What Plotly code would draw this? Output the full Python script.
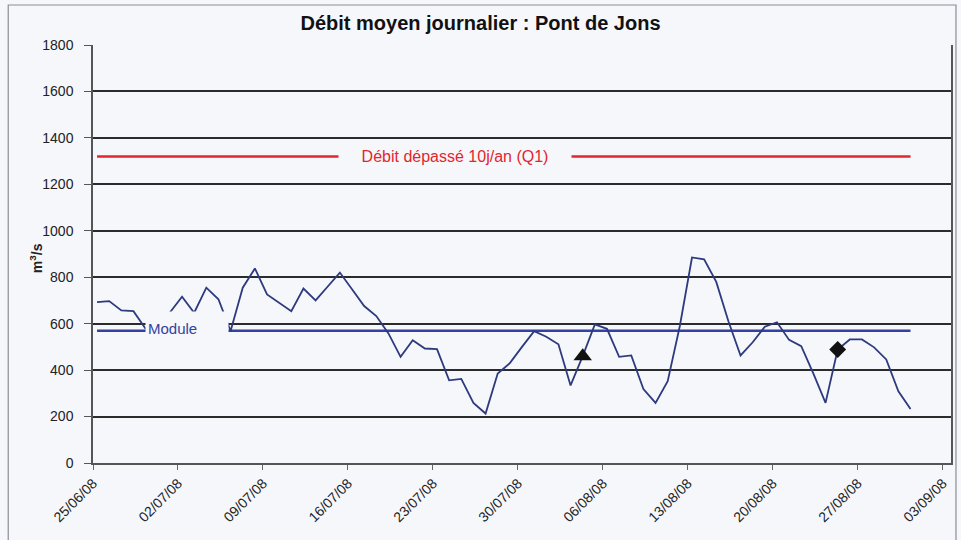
import pandas as pd
import plotly.graph_objects as go

# Daily mean discharge at Pont de Jons, 25/06/2008 -> 31/08/2008 (m3/s)
dates = pd.date_range("2008-06-25", "2008-08-31", freq="D")
debit = [
    693, 697, 657, 654, 578, 590, 648, 716, 647, 755,
    705, 568, 755, 838, 726, 690, 654, 751, 700, 760,
    820, 748, 676, 633, 558, 457, 529, 493, 490, 356,
    362, 259, 213, 385, 430, 500, 568, 544, 511, 334,
    460, 597, 578, 457, 463, 318, 259, 352, 590, 885,
    877, 780, 610, 463, 520, 587, 606, 530, 503, 385,
    259, 489, 532, 532, 498, 446, 309, 233,
]

module = 570          # mean annual flow
q1 = 1320             # flow exceeded 10 days per year
triangle_day = "2008-08-04"
diamond_day = "2008-08-25"

q1_label = "Débit dépassé 10j/an (Q1)"
module_label = "Module"
title = "Débit moyen journalier : Pont de Jons"
y_title = "m<sup>3</sup>/s"

y_ticks = list(range(0, 1801, 200))

# points sit inside their day slot on the date axis
x = dates + pd.Timedelta(hours=8)
serie = pd.Series(debit, index=dates)

bg = "#f5f7fb"
navy = "#2e3a7e"
font = "Liberation Sans, Arial, sans-serif"

fig = go.Figure()

fig.add_trace(go.Scatter(
    x=[x[0], x[-1]], y=[q1, q1], mode="lines",
    line=dict(color="#e3262c", width=2.5), hoverinfo="skip"))
fig.add_trace(go.Scatter(
    x=[x[0], x[-1]], y=[module, module], mode="lines",
    line=dict(color="#3342a0", width=2.5), hoverinfo="skip"))
fig.add_trace(go.Scatter(
    x=x, y=debit, mode="lines",
    line=dict(color=navy, width=1.8)))

for day, sym, size in [(triangle_day, "triangle-up", 16), (diamond_day, "diamond", 13)]:
    d = pd.Timestamp(day)
    fig.add_trace(go.Scatter(
        x=[d + pd.Timedelta(hours=8)], y=[serie[d]], mode="markers",
        marker=dict(symbol=sym, size=size, color="#111111")))

fig.add_annotation(
    x=0.422, xref="paper", xanchor="center", y=q1, yref="y", yanchor="middle",
    text=q1_label, showarrow=False,
    font=dict(family=font, size=16, color="#e3262c"),
    bgcolor=bg, width=232, height=24, borderpad=0)
fig.add_annotation(
    x=0.1093, xref="paper", xanchor="center", y=module, yref="y", yanchor="middle",
    yshift=3, text=module_label, showarrow=False, align="left",
    font=dict(family=font, size=15, color="#3342a0"),
    bgcolor=bg, width=78, height=28, borderpad=2)

fig.add_annotation(
    x=-0.067, xref="paper", xanchor="center", y=880, yref="y", yanchor="middle",
    text=y_title, showarrow=False, textangle=-90,
    font=dict(family=font, size=14, color="#222222", weight="bold"))

# outer chart frame
fig.add_shape(type="rect", xref="paper", yref="paper",
              x0=-0.0988, x1=1.0058, y0=-0.2, y1=1.0957,
              line=dict(color="#8a8d92", width=1.2), fillcolor="rgba(0,0,0,0)")

fig.update_layout(
    width=961, height=540,
    margin=dict(l=93, r=8, t=45, b=77),
    paper_bgcolor=bg, plot_bgcolor=bg,
    showlegend=False,
    font=dict(family=font, size=14, color="#222222"),
    title=dict(text=f"<b>{title}</b>", x=0.5, xanchor="center",
               y=0.957, yanchor="middle", font=dict(family=font, size=20, color="#111111")),
)

fig.update_xaxes(
    type="date",
    range=["2008-06-25", "2008-09-03 16:00"],
    tick0="2008-06-25", dtick=7 * 86400000, tickformat="%d/%m/%y",
    tickangle=-45, ticks="outside", ticklen=5, tickcolor="#666666",
    showgrid=False, showline=True, linecolor="#555555", linewidth=1.5,
    mirror=False, tickfont=dict(size=14),
)
fig.update_yaxes(
    range=[0, 1800], tickvals=y_ticks, ticks="outside", ticklen=7,
    tickcolor="#555555", ticklabelstandoff=8,
    showgrid=True, gridcolor="#2b2b2b", gridwidth=1.6,
    zeroline=False, showline=True, linecolor="#555555", linewidth=1.5,
    mirror=True, tickfont=dict(size=14),
)

fig.write_html("out.html")
